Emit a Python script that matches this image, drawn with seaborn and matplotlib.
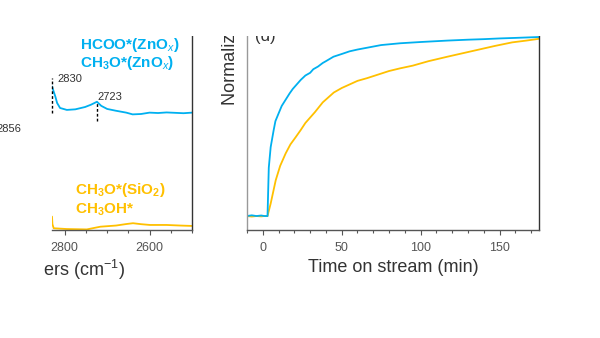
import matplotlib
matplotlib.use("Agg")
import matplotlib.pyplot as plt
from matplotlib.ticker import MultipleLocator, NullLocator, FixedLocator
from matplotlib.patches import Rectangle
import seaborn as sns
import pandas as pd

# ---------------- data ----------------
# left panel: DRIFTS spectra (wavenumber, arbitrary absorbance)
wn_blue = [2830, 2826, 2822, 2818, 2811, 2795, 2775, 2752, 2738, 2724, 2714, 2700,
           2680, 2655, 2640, 2620, 2600, 2580, 2560, 2540, 2520, 2500]
ab_blue = [0.740, 0.713, 0.687, 0.655, 0.629, 0.619, 0.622, 0.634, 0.646, 0.661, 0.640, 0.624,
           0.615, 0.605, 0.596, 0.598, 0.605, 0.603, 0.606, 0.604, 0.602, 0.605]
wn_yel = [2830, 2829, 2826, 2795, 2748, 2716, 2679, 2654, 2639, 2620, 2599, 2560, 2528, 2501]
ab_yel = [0.069, 0.030, 0.009, 0.005, 0.003, 0.017, 0.023, 0.031, 0.035, 0.030, 0.026, 0.026, 0.023, 0.021]

peak_pos = [2830, 2723]
peak_lbl = ["2830", "2723", "2856"]
major_wn = [2800, 2600]

# right panel: normalized signal vs time on stream (min)
t_blue = [-10, -7, -4, -1, 1, 3.0, 3.8, 5.0, 6.9, 8.0, 10.1, 12, 14.5, 17, 19, 21, 24, 27, 30,
          32, 35, 38, 40, 44.8, 50, 55, 60, 66, 75, 87, 100, 117, 130, 140, 150, 160, 175]
y_blue = [0.0, 0.004, 0.0, 0.003, 0.0, 0.0, 0.27, 0.385, 0.48, 0.53, 0.575, 0.615, 0.65, 0.685,
          0.71, 0.73, 0.76, 0.785, 0.80, 0.82, 0.835, 0.855, 0.865, 0.89, 0.905, 0.92, 0.93,
          0.94, 0.955, 0.965, 0.972, 0.98, 0.985, 0.988, 0.992, 0.995, 1.0]
t_yel = [-10, -7, -4, -1, 1, 3.0, 5, 8.2, 11, 14.5, 17.5, 20.8, 24, 27, 30, 33, 38, 45, 50,
         55, 60, 66, 73, 80, 87, 95, 105, 117, 127, 137, 147, 158, 167, 175]
y_yel = [0.0, -0.003, 0.0, -0.002, 0.0, 0.0, 0.07, 0.20, 0.28, 0.35, 0.40, 0.44, 0.48, 0.52,
         0.55, 0.58, 0.635, 0.69, 0.715, 0.735, 0.755, 0.77, 0.79, 0.81, 0.825, 0.84,
         0.865, 0.89, 0.91, 0.93, 0.95, 0.97, 0.98, 0.99]

BLUE = "#00B0F0"
YELLOW = "#FFC000"
GREY = "#555555"
DARK = "#333333"

sns.set_style("white")
plt.rcParams["font.family"] = ["Liberation Sans", "DejaVu Sans"]
plt.rcParams["mathtext.fontset"] = "custom"
plt.rcParams["mathtext.rm"] = "Liberation Sans"
plt.rcParams["mathtext.it"] = "Liberation Sans:italic"
plt.rcParams["mathtext.bf"] = "Liberation Sans:bold"

W, H = 600, 338
fig = plt.figure(figsize=(6, 3.38), dpi=100)

def frac(x0, y_top, x1, y_bot):
    return [x0 / W, 1 - y_bot / H, (x1 - x0) / W, (y_bot - y_top) / H]

axL = fig.add_axes(frac(52, 36, 192, 230))
axR = fig.add_axes(frac(247, 36, 539, 230))

# ---------- left panel ----------
dfb = pd.DataFrame({"w": wn_blue, "a": ab_blue})
dfy = pd.DataFrame({"w": wn_yel, "a": ab_yel})
sns.lineplot(data=dfb, x="w", y="a", ax=axL, color=BLUE, lw=1.3, sort=False)
sns.lineplot(data=dfy, x="w", y="a", ax=axL, color=YELLOW, lw=1.3, sort=False)
axL.set_xlim(2830, 2500)
axL.set_ylim(0, 1)
axL.xaxis.set_major_locator(FixedLocator(major_wn))
axL.xaxis.set_minor_locator(MultipleLocator(50))
axL.yaxis.set_major_locator(NullLocator())
axL.set_xlabel("")
axL.set_ylabel("")
for s in ["top", "left"]:
    axL.spines[s].set_visible(False)
axL.spines["right"].set_color(DARK)
axL.spines["bottom"].set_color(GREY)

# dashed peak markers
axL.plot([peak_pos[0]] * 2, [0.603, 0.784], ls=(0, (2, 1.5)), color="black", lw=1.0,
         clip_on=False)
axL.plot([peak_pos[1]] * 2, [0.562, 0.655], ls=(0, (2, 1.5)), color="black", lw=1.0)
axL.text(2818, 0.778, peak_lbl[0], fontsize=8, color=DARK, ha="left", va="center")
axL.text(2722, 0.686, peak_lbl[1], fontsize=8, color=DARK, ha="left", va="center")
fig.text(21 / W, 1 - 129 / H, peak_lbl[2], fontsize=8, color=DARK, ha="right", va="center")

axL.text(2765, 0.954, "HCOO*(ZnO$_x$)", fontsize=11, fontweight="bold", color=BLUE,
         ha="left", va="center")
axL.text(2765, 0.861, "CH$_\\mathbf{3}$O*(ZnO$_x$)", fontsize=11, fontweight="bold",
         color=BLUE, ha="left", va="center")
axL.text(2776, 0.206, "CH$_\\mathbf{3}$O*(SiO$_\\mathbf{2}$)", fontsize=11,
         fontweight="bold", color=YELLOW, ha="left", va="center")
axL.text(2776, 0.103, "CH$_\\mathbf{3}$OH*", fontsize=11, fontweight="bold",
         color=YELLOW, ha="left", va="center")

# ---------- right panel ----------
dtb = pd.DataFrame({"t": t_blue, "y": y_blue})
dty = pd.DataFrame({"t": t_yel, "y": y_yel})
sns.lineplot(data=dty, x="t", y="y", ax=axR, color=YELLOW, lw=1.3, sort=False)
sns.lineplot(data=dtb, x="t", y="y", ax=axR, color=BLUE, lw=1.3, sort=False)
axR.set_xlim(-10, 175)
axR.set_ylim(-0.078, 1.0056)
axR.xaxis.set_major_locator(MultipleLocator(50))
axR.xaxis.set_minor_locator(MultipleLocator(10))
axR.yaxis.set_major_locator(NullLocator())
axR.set_ylabel("")
axR.set_xlabel("Time on stream (min)", fontsize=13, color=DARK, labelpad=4)
axR.spines["top"].set_visible(False)
axR.spines["left"].set_color("#999999")
axR.spines["right"].set_color(DARK)
axR.spines["bottom"].set_color(GREY)

for ax in (axL, axR):
    for s in ax.spines.values():
        s.set_linewidth(1.0)
    ax.tick_params(axis="x", which="major", direction="out", length=3.5, width=0.8,
                   color=GREY, labelcolor=GREY, labelsize=9, pad=5, bottom=True)
    ax.tick_params(axis="x", which="minor", direction="out", length=2, width=0.8,
                   color=GREY, bottom=True)

fig.text(125 / W, 1 - 270 / H, "Wavenumbers (cm$^{-1}$)", fontsize=13, color=DARK,
         ha="right", va="center")
fig.text(230 / W, 1 - 105 / H, "Normalized intensity (a.u.)", fontsize=13, color=DARK,
         rotation=90, ha="center", va="bottom")
fig.text(255 / W, 1 - 41 / H, "(d)", fontsize=12, color=DARK, ha="left", va="baseline")

# cropped margins of the original figure
fig.add_artist(Rectangle((0, 1 - 36 / H), 1, 36 / H, transform=fig.transFigure,
                         facecolor="white", edgecolor="none", zorder=100))
fig.add_artist(Rectangle((0, 1 - 292 / H), 44 / W, 38 / H, transform=fig.transFigure,
                         facecolor="white", edgecolor="none", zorder=100))

fig.savefig("out.png", dpi=100)
